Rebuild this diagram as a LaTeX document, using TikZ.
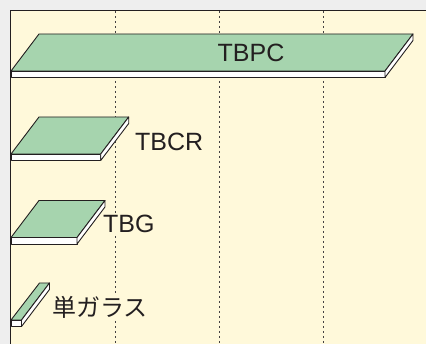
\documentclass[tikz,border=0pt]{standalone}
\usepackage{fontspec}
\setmainfont{Liberation Sans}
\newfontfamily\jpfont{Noto Sans CJK JP}
\usepackage{xcolor}

\definecolor{paper}{HTML}{FFF9DA}
\definecolor{slabgreen}{HTML}{A6D4AE}
\definecolor{outside}{HTML}{EEEEEE}
\definecolor{ink}{HTML}{231F20}

\begin{document}
\begin{tikzpicture}[x=1pt, y=-1pt,
    face/.style={draw=ink, line width=0.9pt, line join=round},
    gridline/.style={draw=ink!85, line width=1pt, dash pattern=on 2.5pt off 2.5pt},
    barlabel/.style={fill=paper, inner sep=1pt, text=ink, anchor=west, font=\fontsize{25}{25}\selectfont}]
            \useasboundingbox (0,0) rectangle (426,344);
            
            % Background and frame
            \fill[outside] (0,0) rectangle (426,344);
            \fill[paper] (10.5,10.5) rectangle (426,344);
            
            % Grid lines (dashed)
            \draw[gridline] (115,11) -- (115,344);
            \draw[gridline] (219,11) -- (219,344);
            \draw[gridline] (323,11) -- (323,344);
            
            % TBPC slab
            \filldraw[face, fill=slabgreen] (39,34) -- (413,34) -- (385,71) -- (11,71) -- cycle;
            \filldraw[face, fill=white] (11,71) rectangle (385,77.5);
            \filldraw[face, fill=white] (385,71) -- (413,34) -- (413,40.5) -- (385,77.5) -- cycle;
            \node[text=ink, inner sep=0pt, font=\fontsize{25}{25}\selectfont] (tbpc) at (251,53) {TBPC};
            
            % TBCR slab
            \filldraw[face, fill=slabgreen] (39,117) -- (128.7,117) -- (100.7,154) -- (11,154) -- cycle;
            \filldraw[face, fill=white] (11,154) rectangle (100.7,160.5);
            \filldraw[face, fill=white] (100.7,154) -- (128.7,117) -- (128.7,123.5) -- (100.7,160.5) -- cycle;
            \node[barlabel] (tbcr) at (134,141.5) {TBCR};
            
            % TBG slab
            \filldraw[face, fill=slabgreen] (39,200.5) -- (105,200.5) -- (77,237.5) -- (11,237.5) -- cycle;
            \filldraw[face, fill=white] (11,237.5) rectangle (77,244);
            \filldraw[face, fill=white] (77,237.5) -- (105,200.5) -- (105,207) -- (77,244) -- cycle;
            \node[barlabel] (tbg) at (102,224) {TBG};
            
            % Single glass
            \filldraw[face, fill=slabgreen] (39.5,283) -- (49.5,283) -- (21.5,320) -- (11,320) -- cycle;
            \filldraw[face, fill=white] (11,320) rectangle (21.5,326.5);
            \filldraw[face, fill=white] (21.5,320) -- (49.5,283) -- (49.5,289.5) -- (21.5,326.5) -- cycle;
            \node[barlabel, font=\fontsize{24}{24}\selectfont] (glass) at (51,307) {\jpfont 単ガラス};
            
            % Frame lines (top and left)
            \draw[ink, line width=1.2pt] (10.5,344) -- (10.5,10.5) -- (426,10.5);
        \end{tikzpicture}
\end{document}
